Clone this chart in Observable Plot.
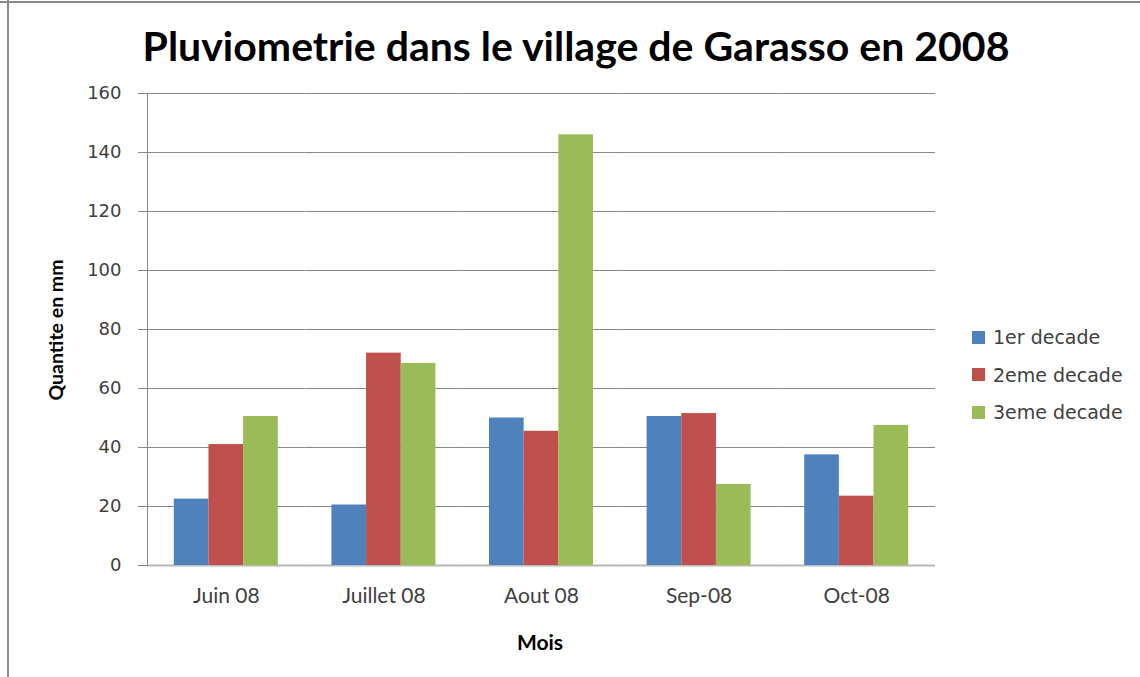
<!DOCTYPE html>
<html>
<head>
<meta charset="utf-8">
<script src="https://cdn.jsdelivr.net/npm/d3@7"></script>
<script src="https://cdn.jsdelivr.net/npm/@observablehq/plot@0.6"></script>
<style>
  html, body { margin: 0; padding: 0; background: #fff; }
  #wrap { position: relative; width: 1140px; height: 677px; overflow: hidden; background: #fff; }
  #chart { position: absolute; left: 0; top: 0; }
  .border-top { position: absolute; left: 0; top: 1px; width: 1140px; height: 2px; background: #8a8a8a; }
  .border-left { position: absolute; left: 7px; top: 0; width: 2px; height: 677px; background: #8a8a8a; }
  #title { position: absolute; left: 576px; top: 45px; transform: translate(-50%, -50%);
           font-family: Lato, sans-serif; font-weight: bold; font-size: 41px; color: #000; white-space: nowrap; }
  #ylabel { position: absolute; left: 55px; top: 330px; transform: translate(-50%, -50%) rotate(-90deg);
            font-family: Lato, sans-serif; font-weight: bold; font-size: 19.5px; color: #000; white-space: nowrap; }
  #xlabel { position: absolute; left: 540px; top: 641px; transform: translate(-50%, -50%);
            font-family: Lato, sans-serif; font-weight: bold; font-size: 21px; color: #000; white-space: nowrap; }
  #legend { position: absolute; left: 972px; top: 318.5px; font-family: "DejaVu Sans", sans-serif; font-size: 19px; color: #404040; }
  #legend .row { display: flex; align-items: center; height: 37.5px; }
  #legend .sw { width: 13px; height: 13px; margin-right: 8px; }
</style>
</head>
<body>
<div id="wrap">
  <div id="chart"></div>
  <div class="border-top"></div>
  <div class="border-left"></div>
  <div id="title">Pluviometrie dans le village de Garasso en 2008</div>
  <div id="ylabel">Quantite en mm</div>
  <div id="xlabel">Mois</div>
  <div id="legend"></div>
</div>
<script>
const months = ["Juin 08", "Juillet 08", "Aout 08", "Sep-08", "Oct-08"];
const series = ["1er decade", "2eme decade", "3eme decade"];
const decade1 = [22.5, 20.5, 50, 50.5, 37.5];
const decade2 = [41, 72, 45.5, 51.5, 23.5];
const decade3 = [50.5, 68.5, 146, 27.5, 47.5];
const colors = ["#4F81BD", "#C0504D", "#9BBB59"];
const yTicks = [0, 20, 40, 60, 80, 100, 120, 140, 160];

const seriesValues = [decade1, decade2, decade3];
const rows = [];
months.forEach((m, i) => {
  series.forEach((s, j) => rows.push({month: m, series: s, value: seriesValues[j][i]}));
});

const chart = Plot.plot({
  width: 1140,
  height: 677,
  marginLeft: 147,
  marginRight: 205,
  marginTop: 93,
  marginBottom: 112,
  style: {fontFamily: "DejaVu Sans, sans-serif", fontSize: "18px", color: "#404040", background: "transparent"},
  fx: {domain: months, paddingInner: 0, paddingOuter: 0, round: false, label: null},
  x: {domain: series, paddingInner: 0, paddingOuter: 0.773, round: false, axis: null},
  y: {domain: [0, 160], label: null},
  color: {domain: series, range: colors},
  marks: [
    Plot.gridY(yTicks.filter(d => d > 0), {stroke: "#868686", strokeOpacity: 1}),
    Plot.ruleY([0], {stroke: "#b8b8b8", strokeWidth: 2}),
    Plot.barY(rows, {fx: "month", x: "series", y: "value", fill: "series"}),
    Plot.frame({anchor: "left", facetAnchor: "left", stroke: "#868686"}),
    Plot.axisY(yTicks, {tickSize: 9, tickPadding: 17, stroke: "#868686", label: null}),
    Plot.axisFx({anchor: "bottom", tickSize: 0, tickPadding: 23, fontFamily: "Lato, sans-serif", fontSize: 21, label: null})
  ]
});
document.getElementById("chart").appendChild(chart);

const legend = document.getElementById("legend");
series.forEach((s, i) => {
  const row = document.createElement("div");
  row.className = "row";
  const sw = document.createElement("div");
  sw.className = "sw";
  sw.style.background = colors[i];
  const t = document.createElement("span");
  t.textContent = s;
  row.appendChild(sw);
  row.appendChild(t);
  legend.appendChild(row);
});
</script>
</body>
</html>
